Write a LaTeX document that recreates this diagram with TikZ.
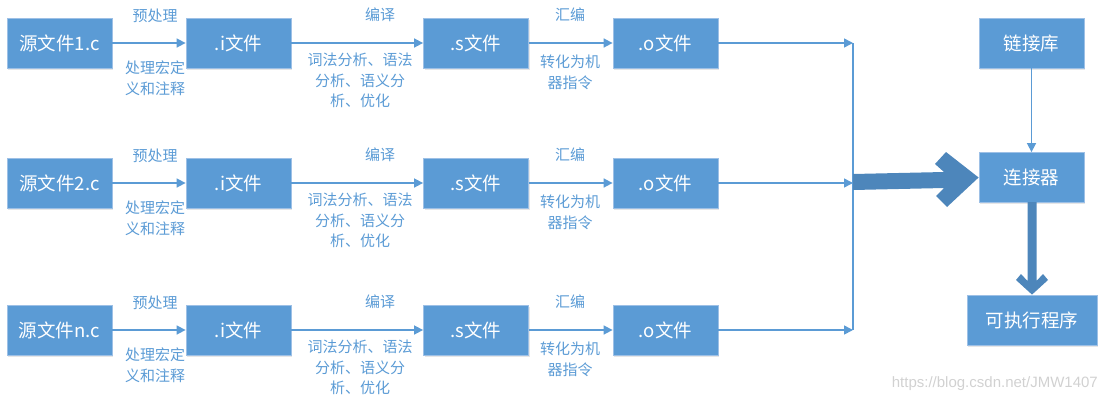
\documentclass[tikz,border=0pt]{standalone}
\usepackage{fontspec}
\setmainfont{Noto Sans CJK SC}
\newfontfamily\wmfont{Liberation Sans}
\usetikzlibrary{arrows.meta,shadows}
\definecolor{boxblue}{HTML}{5B9BD5}
\definecolor{boxedge}{HTML}{9DC0E6}
\definecolor{thickblue}{HTML}{4D86BB}
\definecolor{lblblue}{HTML}{5B9BD5}
\tikzset{
  fbox/.style={draw=boxedge, line width=0.8pt, fill=boxblue, text=white, font=\fontsize{18.5}{22}\selectfont,
    inner sep=0pt, minimum height=50pt, drop shadow={shadow xshift=1pt, shadow yshift=-1.5pt, opacity=0.2}},
  wbox/.style={fbox, minimum width=105pt},
  conn/.style={draw=boxblue, line width=1.6pt, -{Triangle[length=9pt,width=9pt]}},
  lbl/.style={text=lblblue, font=\fontsize{15}{20.5}\selectfont, align=center, inner sep=0pt},
  thick arrow/.style={fill=thickblue, draw=none},
}
\begin{document}
\begin{tikzpicture}[x=1pt,y=-1pt]
\useasboundingbox (0,0) rectangle (1106,402);
\foreach \r/\y/\n in {1/43/1.c, 2/183/2.c, 3/330/n.c}{
  \node[wbox] (src\r) at (59.5,\y) {源文件\n};
  \node[wbox] (i\r) at (238.5,\y) {.i文件};
  \node[wbox] (s\r) at (476,\y) {.s文件};
  \node[wbox] (o\r) at (665.5,\y) {.o文件};
  \coordinate (m\r) at (853,\y);
  \draw[conn] (src\r) -- (i\r);
  \draw[conn] (i\r) -- (s\r);
  \draw[conn] (s\r) -- (o\r);
  \draw[conn] (o\r) -- (m\r);
  \node[lbl] (pre\r) at (155,\y-27) {预处理};
  \node[lbl, anchor=north] (pred\r) at (155,\y+18) {处理宏定\\义和注释};
  \node[lbl] (comp\r) at (380,\y-28) {编译};
  \node[lbl, anchor=north] (compd\r) at (360,\y+10) {词法分析、语法\\分析、语义分\\析、优化};
  \node[lbl, anchor=north] (asmd\r) at (570,\y+12) {转化为机\\器指令};
  \node[lbl] (asm\r) at (570,\y-28) {汇编};
}
\draw[draw=boxblue, line width=1.6pt] (m1) -- (m3);
\node[wbox] (lib) at (1031.5,43) {链接库};
\node[wbox] (linker) at (1031.5,177.5) {连接器};
\node[fbox, minimum width=130pt] (exe) at (1032,320) {可执行程序};
\draw[conn] (lib) -- (linker);
% thick arrow into linker
\fill[thick arrow] (853,174) -- (944,172) -- (935,164) -- (946,152) -- (linker.west) -- (947,207) -- (936,196) -- (944,188) -- (853,190) -- cycle;
% thick arrow down to executable
\fill[thick arrow] (1027.5,202) -- (1027.5,281) -- (1021,274) -- (1016,280) -- (exe.north) -- (1048,280) -- (1043,274) -- (1036.5,281) -- (1036.5,202) -- cycle;
\node[text=black!18, font=\wmfont\fontsize{15}{17}\selectfont, anchor=east, inner sep=0pt] (wm) at (1098,384) {https://blog.csdn.net/JMW1407};
\end{tikzpicture}
\end{document}
